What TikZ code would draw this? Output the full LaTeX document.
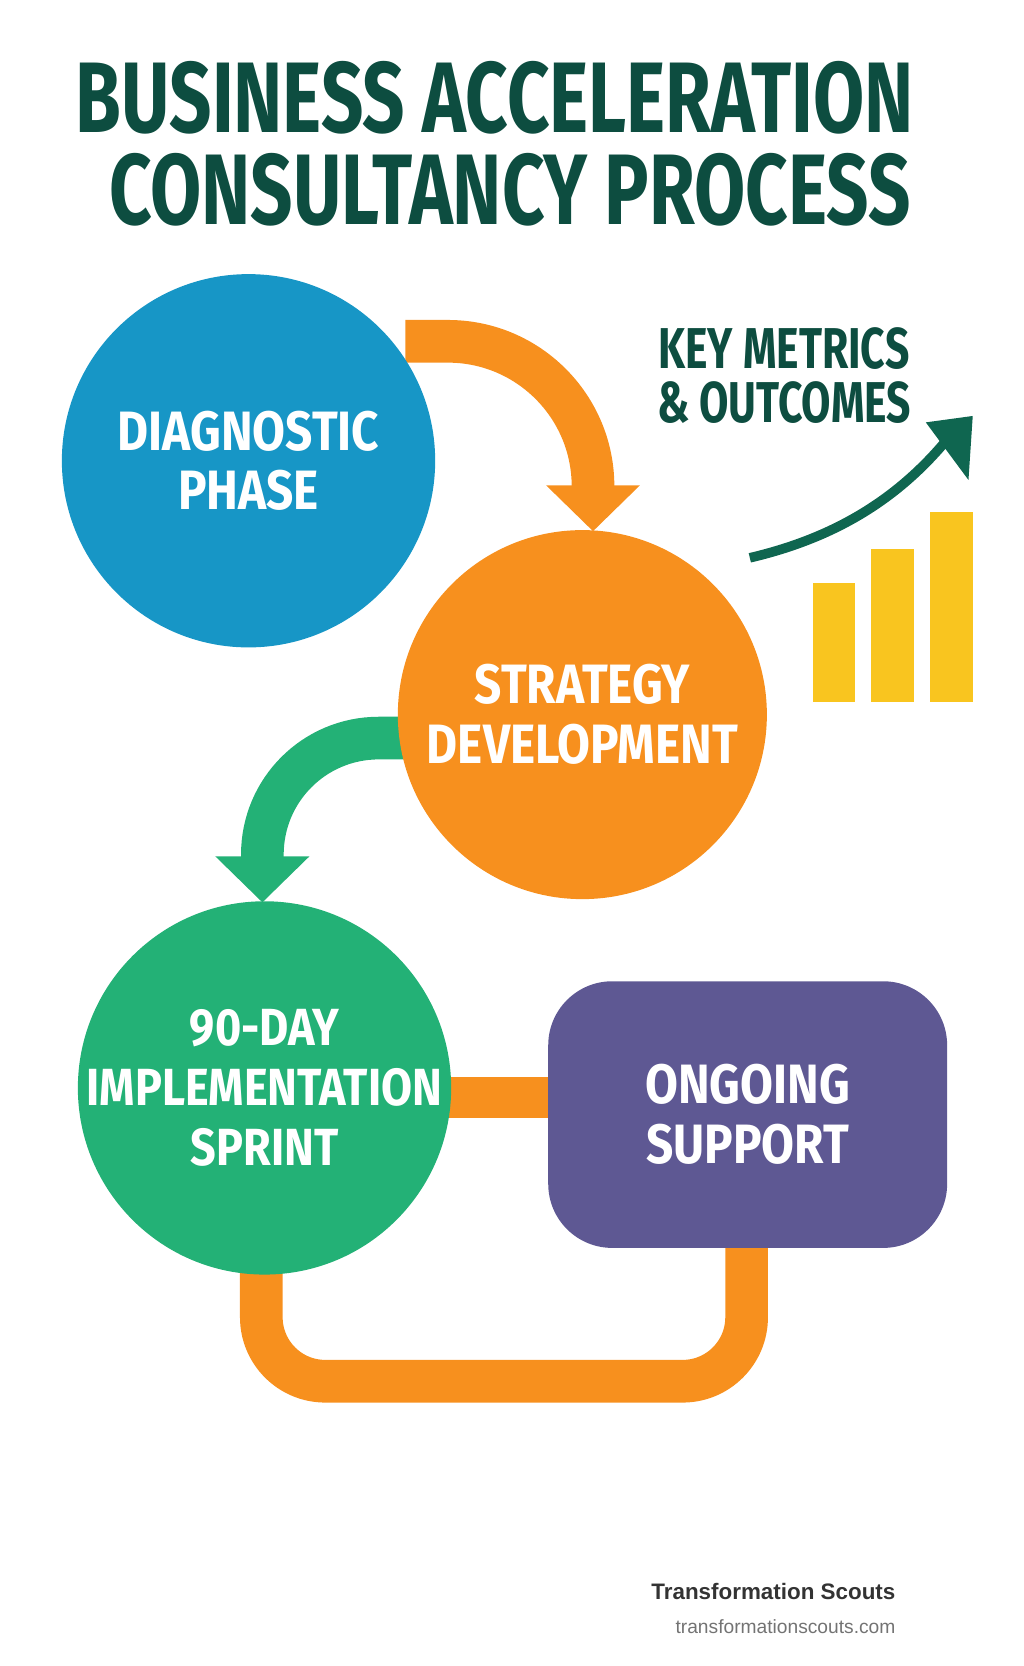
\documentclass[tikz,border=0pt]{standalone}
\usepackage{fontspec}
\setmainfont{Fira Sans}
\newfontfamily\footfont{Liberation Sans}
\usepackage{graphicx}
\definecolor{titlegreen}{HTML}{0D4D40}
\definecolor{phaseblue}{HTML}{1796C6}
\definecolor{phaseorange}{HTML}{F7901E}
\definecolor{phasegreen}{HTML}{23B176}
\definecolor{phasepurple}{HTML}{5E5893}
\definecolor{baryellow}{HTML}{F9C51F}
\definecolor{arrowgreen}{HTML}{0F6650}
\newcommand\narrowtxt[1]{\scalebox{0.74}[1]{#1}}
\newcommand\phasetxt[1]{\makebox[0pt]{\scalebox{0.86}[1]{#1}}}
\begin{document}
\begin{tikzpicture}[x=1pt,y=-1pt]
            \tikzset{phase/.style={circle, minimum size=350pt, inner sep=0pt, text=white, font=\fontsize{52}{56}\selectfont\bfseries, align=center},
                     band/.style={line width=40pt},
                     head/.style={fill=#1, draw=none}}
            \useasboundingbox (0,0) rectangle (960,1562);

            % title
            \node[text=titlegreen, font=\fontsize{94}{100}\selectfont\bfseries] (title1) at (464,92) {\narrowtxt{BUSINESS ACCELERATION}};
            \node[text=titlegreen, font=\fontsize{94}{100}\selectfont\bfseries] (title2) at (478,178) {\narrowtxt{CONSULTANCY PROCESS}};

            % connectors behind the phases
            \coordinate (o1s) at (380,320);
            \coordinate (o1e) at (556,462);
            \draw[band, phaseorange] (o1s) -- (420,320) arc[start angle=-90, end angle=0, radius=136] -- (o1e);
            \fill[head=phaseorange] (512,455) -- (600,455) -- (556,498) -- cycle;

            \coordinate (g1s) at (400,692);
            \coordinate (g1e) at (246,808);
            \draw[band, phasegreen] (g1s) -- (355,692) arc[start angle=-90, end angle=-180, radius=109] -- (g1e);
            \fill[head=phasegreen] (202,803) -- (290,803) -- (246,846) -- cycle;

            \coordinate (lb) at (245,1180);
            \coordinate (lr) at (700,1160);
            \draw[band, phaseorange, rounded corners=60pt] (lb) -- (245,1295) -- (700,1295) -- (lr);

            \coordinate (bl) at (380,1029);
            \coordinate (br) at (560,1029);
            \draw[line width=38pt, phaseorange] (bl) -- (br);

            % phases
            \node[phase, fill=phaseblue] (diag) at (233,432) {\phasetxt{DIAGNOSTIC}\\\phasetxt{PHASE}};
            \node[phase, fill=phaseorange, minimum size=346pt] (strat) at (546,670) {\phasetxt{STRATEGY}\\\phasetxt{DEVELOPMENT}};
            \node[phase, fill=phasegreen, font=\fontsize{49}{56}\selectfont\bfseries] (sprint) at (248,1020) {\phasetxt{90-DAY}\\\phasetxt{IMPLEMENTATION}\\\phasetxt{SPRINT}};
            \node[phase, shape=rectangle, rounded corners=60pt, minimum width=374pt, minimum height=250pt, fill=phasepurple] (support) at (701,1045) {\phasetxt{ONGOING}\\\phasetxt{SUPPORT}};

            % metrics
            \node[text=titlegreen, font=\fontsize{54}{54}\selectfont\bfseries, align=center] (metrics) at (735,352) {\narrowtxt{KEY METRICS}\\[-4pt]\narrowtxt{\& OUTCOMES}};
            \coordinate (ms) at (703,523);
            \coordinate (me) at (888,412);
            \draw[arrowgreen, line width=9pt] (ms) .. controls (780,505) and (840,470) .. (me);
            \fill[head=arrowgreen] (868,396) -- (912,390) -- (908,450) -- cycle;
            \foreach \x/\t in {762/547, 817/515, 872/480}
                \fill[baryellow] (\x,\t) rectangle (\x+40,658);

            % footer
            \node[anchor=east, text=black!80, font=\footfont\fontsize{21}{21}\selectfont\bfseries] (brand) at (843,1492) {Transformation Scouts};
            \node[anchor=east, text=black!55, font=\footfont\fontsize{18}{18}\selectfont] (url) at (843,1525) {transformationscouts.com};
        \end{tikzpicture}
\end{document}
